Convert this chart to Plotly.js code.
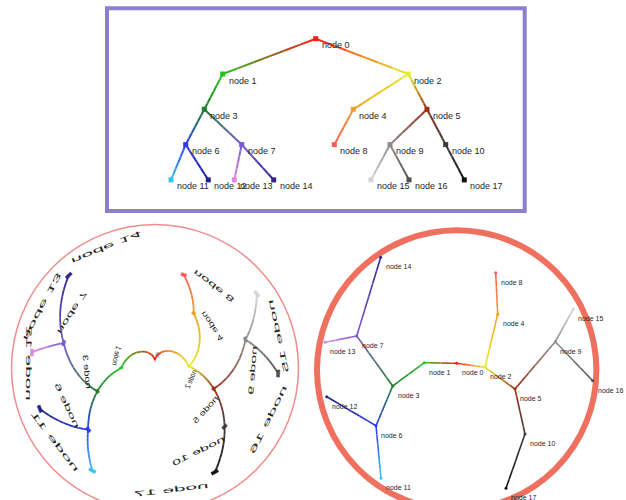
<!DOCTYPE html>
<html>
<head>
<meta charset="utf-8">
<script src="https://cdn.plot.ly/plotly-3.0.1.min.js"></script>
<style>
html,body{margin:0;padding:0;background:#ffffff;}
#chart{width:626px;height:500px;}
</style>
</head>
<body>
<div id="chart"></div>
<script>
// ---------------- data ----------------
const nodeNames = ['node 0','node 1','node 2','node 3','node 4','node 5','node 6','node 7','node 8',
                   'node 9','node 10','node 11','node 12','node 13','node 14','node 15','node 16','node 17'];
const parentIndex = [-1,0,0,1,2,2,3,3,4,5,5,6,6,7,7,9,9,10];
// layered (top) layout: horizontal position of every node
const layeredX = [315.7,222.7,408.3,204.3,353.3,427.0,185.7,241.7,334.3,390.0,445.7,171.0,208.3,234.3,273.7,371.0,409.0,464.3];
// radial (bottom right) layout: position of every node relative to the root (y up)
const radialX = [0,-32.4,28.3,-64.0,41.0,58.3,-80.7,-100.0,39.0,98.6,68.3,-75.7,-130.0,-131.7,-76.0,116.6,136.0,49.3];
const radialY = [0,0.6,-4.0,-22.7,49.0,-25.7,-62.4,27.3,90.6,21.6,-70.7,-115.0,-33.4,21.0,106.0,54.3,-17.4,-125.0];

// ---------------- styles ----------------
const nodeColors = ['#ff1a1a','#22c422','#e6ef2a','#1f7f2a','#f0a020','#9c3014','#2a3cf0','#7a5ad0','#ff5a5a',
                    '#8c8c8c','#3c3c3c','#38c4f0','#22228c','#e088e0','#33238f','#d4d4d4','#505050','#111111'];
const FONT = 'Arial, "Liberation Sans", sans-serif';
const ROW_PX = 35.3;     // top panel pixels per tree level
const TOP_FONT = 9;
const POLAR = {degPerUnit: 1.025, x0: 404.7, r0: 4, rStep: 29.9};

// depth of each node from the tree structure
const depth = [];
parentIndex.forEach((p, i) => { depth[i] = p < 0 ? 0 : depth[p] + 1; });

function toPolar(x, d) {
  const a = (x - POLAR.x0) * POLAR.degPerUnit * Math.PI / 180;
  const r = POLAR.r0 + POLAR.rStep * d;
  return [r * Math.cos(a), -r * Math.sin(a)];
}
function rgb(hex) { const n = parseInt(hex.slice(1), 16); return [(n >> 16) & 255, (n >> 8) & 255, n & 255]; }
function mix(a, b, t) {
  const A = rgb(a), B = rgb(b);
  return 'rgb(' + A.map((v, k) => Math.round(v + (B[k] - v) * t)).join(',') + ')';
}
const lerp = (a, b, t) => a + (b - a) * t;

const traces = [];
function gradientEdge(path, c1, c2, nSeg, sub, width, xa, ya) {
  for (let k = 0; k < nSeg; k++) {
    const xs = [], ys = [];
    for (let s = 0; s <= sub; s++) {
      const t = (k + s / sub) / nSeg;
      const p = path(t); xs.push(p[0]); ys.push(p[1]);
    }
    traces.push({type: 'scatter', mode: 'lines', x: xs, y: ys, xaxis: xa, yaxis: ya,
      line: {color: mix(c1, c2, (k + 0.5) / nSeg), width: width}, hoverinfo: 'skip', showlegend: false});
  }
}

for (let c = 0; c < nodeNames.length; c++) {
  const p = parentIndex[c];
  if (p < 0) continue;
  const c1 = nodeColors[p], c2 = nodeColors[c];
  gradientEdge(t => [lerp(layeredX[p], layeredX[c], t), lerp(depth[p], depth[c], t)], c1, c2, 6, 1, 2, 'x', 'y');
  gradientEdge(t => toPolar(lerp(layeredX[p], layeredX[c], t), lerp(depth[p], depth[c], t)), c1, c2, 10, 3, 1.8, 'x2', 'y2');
  gradientEdge(t => [lerp(radialX[p], radialX[c], t), lerp(radialY[p], radialY[c], t)], c1, c2, 6, 1, 1.6, 'x3', 'y3');
}

// markers: top squares
traces.push({type: 'scatter', mode: 'markers', x: layeredX, y: depth, xaxis: 'x', yaxis: 'y',
  marker: {symbol: 'square', size: 5, color: nodeColors, line: {width: 0}}, hoverinfo: 'skip', showlegend: false});
// markers: polar-transformed squares (small)
for (let i = 0; i < nodeNames.length; i++) {
  const hx = 1.6, hd = 1.8 / ROW_PX, X = layeredX[i], D = depth[i];
  const corners = [[X - hx, D - hd], [X, D - hd], [X + hx, D - hd], [X + hx, D + hd], [X, D + hd], [X - hx, D + hd], [X - hx, D - hd]]
    .map(q => toPolar(q[0], q[1]));
  traces.push({type: 'scatter', mode: 'lines', x: corners.map(q => q[0]), y: corners.map(q => q[1]),
    xaxis: 'x2', yaxis: 'y2', fill: 'toself', fillcolor: nodeColors[i],
    line: {color: nodeColors[i], width: 0.5}, hoverinfo: 'skip', showlegend: false});
}
// markers: radial dots
traces.push({type: 'scatter', mode: 'markers', x: radialX, y: radialY, xaxis: 'x3', yaxis: 'y3',
  marker: {symbol: 'circle', size: 3, color: nodeColors, line: {width: 0}}, hoverinfo: 'skip', showlegend: false});

// ---------------- annotations ----------------
const annotations = [];
nodeNames.forEach((name, i) => {
  annotations.push({xref: 'x', yref: 'y', x: layeredX[i], y: depth[i], text: name, showarrow: false,
    xanchor: 'left', yanchor: 'middle', xshift: 5, yshift: -6.5, borderpad: 0,
    font: {family: FONT, size: TOP_FONT, color: '#1e1e1e'}});
});
nodeNames.forEach((name, i) => {
  annotations.push({xref: 'x3', yref: 'y3', x: radialX[i], y: radialY[i], text: name, showarrow: false,
    xanchor: 'left', yanchor: 'middle', xshift: 4, yshift: -9.5, borderpad: 0,
    font: {family: FONT, size: 7, color: '#1e1e1e'}});
});
function labelWidth(s) { let w = 0; for (const ch of s) w += (ch === ' ' ? 0.278 : 0.556); return w * TOP_FONT; }
const leftLabels = [];
nodeNames.forEach((name, i) => {
  const w = labelWidth(name);
  const xc = layeredX[i] + 5 + w / 2;
  const dc = depth[i] + 6.5 / ROW_PX;
  const rc = POLAR.r0 + POLAR.rStep * dc;
  const phi = (xc - POLAR.x0) * POLAR.degPerUnit;
  const half = (w / 2) * POLAR.degPerUnit * Math.PI / 180;
  const rPlace = rc * (1 + Math.cos(half)) / 2;
  const a = phi * Math.PI / 180;
  let ang = phi + 90;
  ang = ((ang + 180) % 360 + 360) % 360 - 180;
  leftLabels.push({idx: annotations.length, sx: rc * POLAR.degPerUnit * Math.PI / 180, sy: -POLAR.rStep / ROW_PX});
  annotations.push({xref: 'x2', yref: 'y2', x: rPlace * Math.cos(a), y: -rPlace * Math.sin(a), text: name,
    showarrow: false, xanchor: 'center', yanchor: 'middle', textangle: ang, borderpad: 0,
    font: {family: FONT, size: TOP_FONT, color: '#222222'}});
});

// ---------------- layout ----------------
const ax = {visible: false, showgrid: false, zeroline: false, fixedrange: true};
const layout = {
  width: 626, height: 500, margin: {l: 0, r: 0, t: 0, b: 0},
  paper_bgcolor: '#ffffff', plot_bgcolor: 'rgba(0,0,0,0)', showlegend: false,
  xaxis: Object.assign({}, ax, {domain: [105 / 626, 527 / 626], range: [105, 527], anchor: 'y'}),
  yaxis: Object.assign({}, ax, {domain: [1 - 212 / 500, 1 - 7 / 500], range: [(212 - 38.7) / ROW_PX, (7 - 38.7) / ROW_PX], anchor: 'x'}),
  xaxis2: Object.assign({}, ax, {domain: [0, 310 / 626], range: [-155, 155], anchor: 'y2'}),
  yaxis2: Object.assign({}, ax, {domain: [0, 285 / 500], range: [-136, 149], anchor: 'x2'}),
  xaxis3: Object.assign({}, ax, {domain: [310 / 626, 1], range: [-146.7, 169.3], anchor: 'y3'}),
  yaxis3: Object.assign({}, ax, {domain: [0, 285 / 500], range: [-136.7, 148.3], anchor: 'x3'}),
  shapes: [
    {type: 'rect', xref: 'paper', yref: 'paper', x0: 107 / 626, x1: 524.7 / 626, y0: 1 - 211 / 500, y1: 1 - 8.3 / 500,
      line: {color: '#8b80cf', width: 4}, fillcolor: 'rgba(0,0,0,0)', layer: 'below'},
    {type: 'circle', xref: 'x2', yref: 'y2', x0: -143.5, x1: 143.5, y0: -4 - 143.5, y1: -4 + 143.5,
      line: {color: '#f08c8c', width: 1.5}, layer: 'below'},
    {type: 'circle', xref: 'x3', yref: 'y3', x0: -139.7, x1: 139.7, y0: -6.7 - 139.7, y1: -6.7 + 139.7,
      line: {color: '#f0705f', width: 6}, layer: 'below'}
  ],
  annotations: annotations
};

Plotly.newPlot('chart', traces, layout, {staticPlot: true, displayModeBar: false}).then(gd => {
  leftLabels.forEach(info => {
    const g = gd.querySelector('.annotation[data-index="' + info.idx + '"]');
    if (!g) return;
    const t = g.querySelector('text.annotation-text') || g.querySelector('text');
    if (!t) return;
    const bb = t.getBBox();
    const cx = bb.x + bb.width / 2, cy = bb.y + bb.height / 2;
    t.setAttribute('transform', 'translate(' + cx + ',' + cy + ') scale(' + info.sx + ',' + info.sy + ') translate(' + (-cx) + ',' + (-cy) + ')');
  });
});
</script>
</body>
</html>
